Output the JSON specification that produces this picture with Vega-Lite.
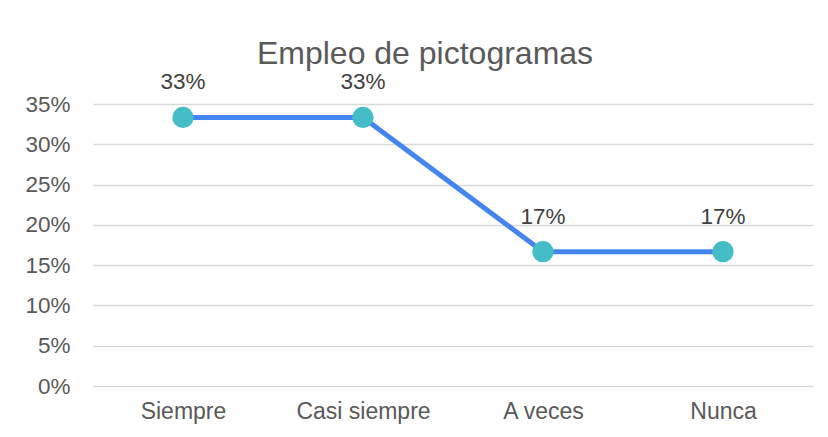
{
  "$schema": "https://vega.github.io/schema/vega-lite/v6.json",
  "width": 720,
  "height": 282,
  "autosize": {"type": "none"},
  "padding": {"left": 93, "top": 104, "right": 15, "bottom": 51},
  "background": "white",
  "config": {
    "view": {"stroke": null},
    "font": "Liberation Sans"
  },
  "title": {
    "text": "Empleo de pictogramas",
    "font": "Liberation Sans",
    "fontSize": 32,
    "fontWeight": "normal",
    "color": "#595959",
    "anchor": "middle",
    "dx": -28,
    "offset": 0
  },
  "data": {
    "values": [
      {"cat": "Siempre", "value": 0.3333},
      {"cat": "Casi siempre", "value": 0.3333},
      {"cat": "A veces", "value": 0.1667},
      {"cat": "Nunca", "value": 0.1667}
    ]
  },
  "encoding": {
    "x": {
      "field": "cat",
      "type": "nominal",
      "sort": null,
      "scale": {"paddingInner": 0, "paddingOuter": 0},
      "axis": {
        "title": null,
        "labelAngle": 0,
        "labelFontSize": 23,
        "labelColor": "#595959",
        "labelFont": "Liberation Sans",
        "ticks": false,
        "domain": false,
        "labelPadding": 14
      }
    },
    "y": {
      "field": "value",
      "type": "quantitative",
      "scale": {"domain": [0, 0.35], "nice": false},
      "axis": {
        "title": null,
        "format": ".0%",
        "values": [0, 0.05, 0.1, 0.15, 0.2, 0.25, 0.3, 0.35],
        "labelFontSize": 22.5,
        "labelColor": "#595959",
        "labelFont": "Liberation Sans",
        "ticks": false,
        "domain": false,
        "labelPadding": 23,
        "gridColor": "#d9d9d9",
        "gridWidth": 1.5
      }
    }
  },
  "layer": [
    {
      "mark": {"type": "line", "color": "#4485f2", "strokeWidth": 5}
    },
    {
      "mark": {"type": "point", "filled": true, "color": "#45bdc6", "opacity": 1, "size": 450}
    },
    {
      "mark": {"type": "text", "fontSize": 22.5, "color": "#404040", "baseline": "alphabetic", "dy": -28, "font": "Liberation Sans"},
      "encoding": {"text": {"field": "value", "type": "quantitative", "format": ".0%"}}
    }
  ]
}
